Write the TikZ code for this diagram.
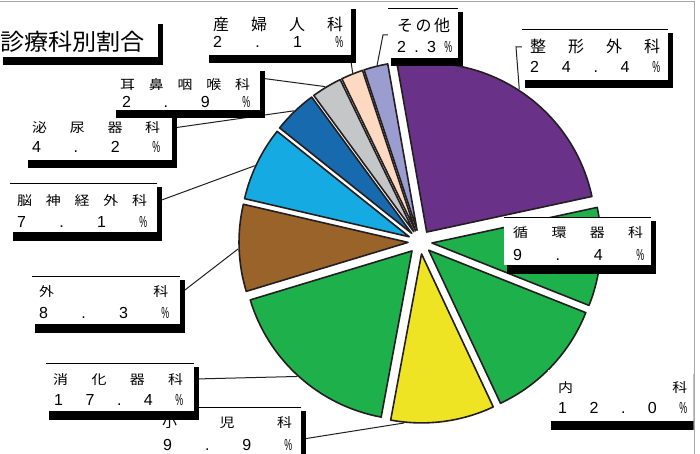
\documentclass[tikz,border=0pt]{standalone}
\usepackage{fontspec}
\usepackage{graphicx}
\newfontfamily\jpw[FakeStretch=1.15]{Noto Sans CJK JP}
\newfontfamily\jpv{Noto Sans CJK JP}
\newfontfamily\jpt[FakeStretch=1.05]{Noto Sans CJK JP}
\newfontfamily\dg{Liberation Sans}
\newcommand\pc{\scalebox{0.55}[1]{\%}}
\definecolor{cPurple}{HTML}{6A3189}
\definecolor{cGreen}{HTML}{1EB14B}
\definecolor{cYellow}{HTML}{EEE424}
\definecolor{cBrown}{HTML}{9A6329}
\definecolor{cLBlue}{HTML}{15ABE2}
\definecolor{cDBlue}{HTML}{176AAD}
\definecolor{cGray}{HTML}{C5C6C8}
\definecolor{cPeach}{HTML}{FCD9C0}
\definecolor{cLav}{HTML}{9B9CD0}
\definecolor{edgec}{HTML}{231F20}
\definecolor{framec}{HTML}{A6A6A6}
\tikzset{
 pieedge/.style={draw=edgec, line width=1.6, line join=round},
 leader/.style={draw=edgec, line width=1},
 topline/.style={draw=black, line width=0.8},
 shadowbox/.style={fill=black},
 lbox/.style={fill=white, inner sep=0, outer sep=0, anchor=north west},
 cjk/.style={font=\jpw\fontsize{13}{15}\selectfont, anchor=base west, inner sep=0},
 cjkbig/.style={font=\jpv\fontsize{16}{18}\selectfont, anchor=base west, inner sep=0},
 num/.style={font=\dg\fontsize{16}{18}\selectfont, anchor=base west, inner sep=0},
}
% slice: start angle, end angle, colour, leader angle, leader coordinate name
\newcommand\slice[5]{%
 \pgfmathsetmacro\sla{-(#1)}%
 \pgfmathsetmacro\slb{-(#2)}%
 \pgfmathsetmacro\slm{-((#1)+(#2))/2}%
 \pgfmathsetmacro\sll{-(#4)}%
 \begin{scope}[shift={(\slm:12)}]
  \draw[pieedge, fill=#3] (0,0) -- (\sla:169) arc[start angle=\sla, end angle=\slb, radius=169] -- cycle;
  \coordinate (#5) at (\sll:170);
 \end{scope}
}
% label box: name, x0, y0, x1, y1
\newcommand\lab[5]{%
 \fill[shadowbox] ({#2+3},{#3+4}) rectangle ({#4+4.5},{#5+8.5});
 \node[lbox, minimum width={#4-#2}, minimum height={#5-#3}] (#1) at (#2,#3) {};
}
% text row: style, name, x, baseline, width, content
\newcommand\lrow[6]{\node[#1] (#2) at (#3,#4) {\makebox[#5pt]{#6}};}
\begin{document}
\begin{tikzpicture}[x=1pt, y=-1pt]
\useasboundingbox (0,0) rectangle (700,454);
\fill[white] (0,0) rectangle (700,454);
\begin{scope}
\clip (0,0) rectangle (693.5,454);
% ---------- pie ----------
\begin{scope}[shift={(420,242)}]
 \slice{100}{12.16}{cPurple}{57}{e-seikei}
 \slice{12.16}{-21.68}{cGreen}{-5}{e-junkan}
 \slice{-21.68}{-64.88}{cGreen}{-43}{e-naika}
 \slice{-64.88}{-100.52}{cYellow}{-95.9}{e-shoni}
 \slice{-100.52}{-163.16}{cGreen}{-132.4}{e-shoka}
 \slice{-163.16}{-193.04}{cBrown}{-177.8}{e-geka}
 \slice{-193.04}{-218.6}{cLBlue}{155.3}{e-noshin}
 \slice{-218.6}{-233.72}{cDBlue}{133.9}{e-hinyo}
 \slice{-233.72}{-244.16}{cGray}{121.4}{e-jibi}
 \slice{-244.16}{-251.72}{cPeach}{111.7}{e-sanfu}
 \slice{-251.72}{-260}{cLav}{103.6}{e-sonota}
\end{scope}
% ---------- leaders ----------
\coordinate (s-shoni) at (300,439.5);
\coordinate (s-shoka) at (195,379);
\coordinate (s-geka) at (181,293);
\coordinate (s-noshin) at (159,201);
\coordinate (s-hinyo) at (173,128);
\coordinate (s-jibi) at (260,78);
\coordinate (s-sanfu) at (350.5,58);
\coordinate (s-sonota) at (390,35);
\coordinate (k-sonota) at (383,35);
\coordinate (s-seikei) at (524,47);
\coordinate (k-seikei) at (516,47);
\draw[leader] (s-shoni) -- (e-shoni);
\draw[leader] (s-shoka) -- (e-shoka);
\draw[leader] (s-geka) -- (e-geka);
\draw[leader] (s-noshin) -- (e-noshin);
\draw[leader] (s-hinyo) -- (e-hinyo);
\draw[leader] (s-jibi) -- (e-jibi);
\draw[leader] (s-sanfu) -- (e-sanfu);
\draw[leader] (s-sonota) -- (k-sonota) -- (e-sonota);
\draw[leader] (s-seikei) -- (k-seikei) -- (e-seikei);
% ---------- labels ----------
% 産婦人科
\lab{b-sanfu}{206}{5}{351}{55}
\lrow{cjkbig}{t1-sanfu}{213}{31}{130}{産\hfill 婦\hfill 人\hfill 科}
\lrow{num}{t2-sanfu}{213}{48}{130}{2\hfill .\hfill 1\hfill \pc}
% その他
\lab{b-sonota}{388}{8}{458}{58}
\draw[topline] (b-sonota.north west) -- (b-sonota.north east);
\lrow{cjkbig}{t1-sonota}{397}{31.5}{53}{そ\hfill の\hfill 他}
\lrow{num}{t2-sonota}{397}{53}{55}{2\hfill .\hfill 3\hfill \pc}
% 整形外科
\lab{b-seikei}{522}{29}{668}{80}
\draw[topline] (b-seikei.north west) -- (b-seikei.north east);
\lrow{cjkbig}{t1-seikei}{530}{53}{130}{整\hfill 形\hfill 外\hfill 科}
\lrow{num}{t2-seikei}{530}{73}{130}{2\hfill 4\hfill .\hfill 4\hfill \pc}
% 循環器科
\lab{b-junkan}{504}{217}{651}{265}
\draw[topline] (b-junkan.north west) -- (b-junkan.north east);
\lrow{cjk}{t1-junkan}{513}{237.5}{130}{循\hfill 環\hfill 器\hfill 科}
\lrow{num}{t2-junkan}{513}{260}{131}{9\hfill .\hfill 4\hfill \pc}
% 内科
\lab{b-naika}{548}{370}{694}{421}
\lrow{cjk}{t1-naika}{558}{392.5}{129}{内\hfill 科}
\lrow{num}{t2-naika}{558}{413}{129}{1\hfill 2\hfill .\hfill 0\hfill \pc}
% 小児科
\lab{b-shoni}{155}{407}{301}{460}
\draw[topline] (b-shoni.north west) -- (b-shoni.north east);
\lrow{cjk}{t1-shoni}{162}{427.5}{130}{小\hfill 児\hfill 科}
\lrow{num}{t2-shoni}{163}{450}{129}{9\hfill .\hfill 9\hfill \pc}
% 消化器科
\lab{b-shoka}{46}{363}{194}{411}
\draw[topline] (b-shoka.north west) -- (b-shoka.north east);
\lrow{cjk}{t1-shoka}{53}{384.5}{130}{消\hfill 化\hfill 器\hfill 科}
\lrow{num}{t2-shoka}{54}{405}{129}{1\hfill 7\hfill .\hfill 4\hfill \pc}
% 外科
\lab{b-geka}{32}{276}{180}{324}
\draw[topline] (b-geka.north west) -- (b-geka.north east);
\lrow{cjk}{t1-geka}{39}{296.5}{129}{外\hfill 科}
\lrow{num}{t2-geka}{39}{318}{130}{8\hfill .\hfill 3\hfill \pc}
% 脳神経外科
\lab{b-noshin}{10}{183}{157}{232}
\draw[topline] (b-noshin.north west) -- (b-noshin.north east);
\lrow{cjk}{t1-noshin}{17}{205}{130}{脳\hfill 神\hfill 経\hfill 外\hfill 科}
\lrow{num}{t2-noshin}{17}{227}{130}{7\hfill .\hfill 1\hfill \pc}
% 泌尿器科
\lab{b-hinyo}{25}{111}{172}{160}
\lrow{cjk}{t1-hinyo}{32}{133}{128}{泌\hfill 尿\hfill 器\hfill 科}
\lrow{num}{t2-hinyo}{32}{153}{128}{4\hfill .\hfill 2\hfill \pc}
% 耳鼻咽喉科
\lab{b-jibi}{113}{67}{260}{110}
\lrow{cjk}{t1-jibi}{120}{90}{130}{耳\hfill 鼻\hfill 咽\hfill 喉\hfill 科}
\lrow{num}{t2-jibi}{122}{108}{128}{2\hfill .\hfill 9\hfill \pc}
% title
\lab{b-title}{0}{20}{158}{57}
\node[anchor=base west, inner sep=0, font=\jpt\fontsize{23}{26}\selectfont] (title) at (0,50.5) {診療科別割合};
\end{scope}
% ---------- frame ----------
\draw[framec, line width=1] (0,1.5) -- (694,1.5) -- (694,454);
\end{tikzpicture}
\end{document}
